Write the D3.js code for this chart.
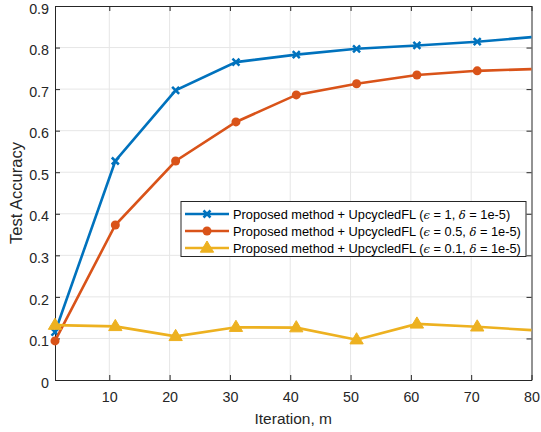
<!DOCTYPE html>
<html>
<head>
<meta charset="utf-8">
<script src="https://cdn.jsdelivr.net/npm/d3@7"></script>
<style>
  body { margin: 0; background: #fff; }
  svg { font-family: "Liberation Sans", Arial, sans-serif; }
</style>
</head>
<body>
<div id="chart"></div>
<script>
// chart width and height
var w = 541;
var h = 432;
var margin = {left: 55, right: 9.5, top: 6, bottom: 52};

// data
var iterations = [1, 11, 21, 31, 41, 51, 61, 71, 80];
var accEps1   = [0.115, 0.527, 0.697, 0.765, 0.783, 0.797, 0.805, 0.814, 0.825];
var accEps05  = [0.094, 0.373, 0.527, 0.621, 0.686, 0.713, 0.734, 0.744, 0.748];
var accEps01  = [0.132, 0.129, 0.105, 0.127, 0.126, 0.097, 0.135, 0.128, 0.120];
var markerIdx = [0, 1, 2, 3, 4, 5, 6, 7]; // no marker on the last point
var xTicks = [10, 20, 30, 40, 50, 60, 70, 80];
var yTicks = [0, 0.1, 0.2, 0.3, 0.4, 0.5, 0.6, 0.7, 0.8, 0.9];
var epsLabels = ["1", "0.5", "0.1"];
var colors = ["#0072BD", "#D95319", "#EDB120"];
var markers = ["x", "o", "tri"];

var series = [accEps1, accEps05, accEps01].map(function(vals, i) {
    return {
        values: vals.map(function(v, j) { return {x: iterations[j], y: v}; }),
        color: colors[i],
        marker: markers[i],
        eps: epsLabels[i]
    };
});

var xScale = d3.scaleLinear().domain([1, 80]).range([margin.left, w - margin.right]);
var yScale = d3.scaleLinear().domain([0, 0.9]).range([h - margin.bottom, margin.top]);

var svg = d3.select("#chart").append("svg")
    .attr("width", w)
    .attr("height", h);

var axisColor = "#262626";
var x0 = xScale.range()[0], x1 = xScale.range()[1];
var y0 = yScale.range()[0], y1 = yScale.range()[1];

// grid
svg.append("g").selectAll("line")
   .data(xTicks.filter(function(t) { return t < 80; }))
   .enter().append("line")
   .attr("x1", function(d) { return xScale(d); })
   .attr("x2", function(d) { return xScale(d); })
   .attr("y1", y0).attr("y2", y1)
   .attr("stroke", "#e6e6e6").attr("stroke-width", 1);
svg.append("g").selectAll("line")
   .data(yTicks.filter(function(t) { return t > 0 && t < 0.9; }))
   .enter().append("line")
   .attr("y1", function(d) { return yScale(d); })
   .attr("y2", function(d) { return yScale(d); })
   .attr("x1", x0).attr("x2", x1)
   .attr("stroke", "#e6e6e6").attr("stroke-width", 1);

// axes (ticks pointing inward, box on)
var xAxis = d3.axisBottom(xScale).tickValues(xTicks).tickSizeInner(-5).tickSizeOuter(0).tickPadding(12);
var yAxis = d3.axisLeft(yScale).tickValues(yTicks).tickFormat(d3.format("")).tickSizeInner(-5).tickSizeOuter(0).tickPadding(6);
var xAxisTop = d3.axisTop(xScale).tickValues(xTicks).tickSizeInner(-5).tickSizeOuter(0).tickFormat("");
var yAxisRight = d3.axisRight(yScale).tickValues(yTicks).tickSizeInner(-5).tickSizeOuter(0).tickFormat("");

function styleAxis(g) {
    g.select(".domain").attr("stroke", axisColor).attr("stroke-width", 1);
    g.selectAll(".tick line").attr("stroke", axisColor);
    g.selectAll(".tick text").attr("fill", axisColor).style("font-size", "14.3px");
}

svg.append("g").attr("transform", "translate(0," + y0 + ")").call(xAxis).call(styleAxis);
svg.append("g").attr("transform", "translate(" + x0 + ",0)").call(yAxis).call(styleAxis)
   .selectAll(".tick text").attr("dy", "0.5em");
svg.append("g").attr("transform", "translate(0," + y1 + ")").call(xAxisTop).call(styleAxis);
svg.append("g").attr("transform", "translate(" + x1 + ",0)").call(yAxisRight).call(styleAxis);

// lines
var line = d3.line()
    .x(function(d) { return xScale(d.x); })
    .y(function(d) { return yScale(d.y); });

function drawMarker(g, type, color, cx, cy) {
    if (type === "x") {
        var s = 3.5;
        g.append("path")
         .attr("d", "M" + (cx - s) + "," + (cy - s) + "L" + (cx + s) + "," + (cy + s) +
                    "M" + (cx - s) + "," + (cy + s) + "L" + (cx + s) + "," + (cy - s))
         .attr("stroke", color).attr("stroke-width", 2.5).attr("fill", "none");
    } else if (type === "o") {
        g.append("circle").attr("cx", cx).attr("cy", cy).attr("r", 4.5).attr("fill", color);
    } else {
        var r = 7;
        g.append("path")
         .attr("d", "M" + cx + "," + (cy - r) + "L" + (cx + r * 0.95) + "," + (cy + r * 0.6) +
                    "L" + (cx - r * 0.95) + "," + (cy + r * 0.6) + "Z")
         .attr("fill", color).attr("stroke", color).attr("stroke-width", 1);
    }
}

series.forEach(function(s) {
    var g = svg.append("g");
    g.append("path")
     .datum(s.values)
     .attr("d", line)
     .attr("fill", "none")
     .attr("stroke", s.color)
     .attr("stroke-width", 2.6);
    markerIdx.forEach(function(j) {
        drawMarker(g, s.marker, s.color, xScale(s.values[j].x), yScale(s.values[j].y));
    });
});

// axis labels
svg.append("text")
   .attr("x", (x0 + x1) / 2).attr("y", 424)
   .attr("text-anchor", "middle")
   .attr("fill", axisColor)
   .style("font-size", "15.5px")
   .text("Iteration, m");
svg.append("text")
   .attr("transform", "translate(22," + ((y0 + y1) / 2) + ") rotate(-90)")
   .attr("text-anchor", "middle")
   .attr("fill", axisColor)
   .style("font-size", "16.5px")
   .text("Test Accuracy");

// legend
var lg = svg.append("g");
lg.append("rect")
  .attr("x", 181).attr("y", 201.5).attr("width", 345).attr("height", 55)
  .attr("fill", "#fff").attr("stroke", "#262626").attr("stroke-width", 1);
series.forEach(function(s, i) {
    var ly = 214 + i * 17;
    lg.append("line")
      .attr("x1", 185).attr("x2", 229).attr("y1", ly).attr("y2", ly)
      .attr("stroke", s.color).attr("stroke-width", 2.6);
    drawMarker(lg, s.marker, s.color, 207, ly);
    var t = lg.append("text")
      .attr("x", 233).attr("y", ly + 4.6)
      .attr("fill", "#000")
      .style("font-size", "12.8px");
    t.append("tspan").text("Proposed method + UpcycledFL (");
    t.append("tspan").style("font-family", "DejaVu Serif").style("font-style", "italic").style("font-size", "11.5px").text("\u03f5");
    t.append("tspan").text(" = " + s.eps + ", ");
    t.append("tspan").style("font-family", "DejaVu Serif").style("font-style", "italic").style("font-size", "11.5px").text("\u03b4");
    t.append("tspan").text(" = 1e-5)");
});
</script>
</body>
</html>
